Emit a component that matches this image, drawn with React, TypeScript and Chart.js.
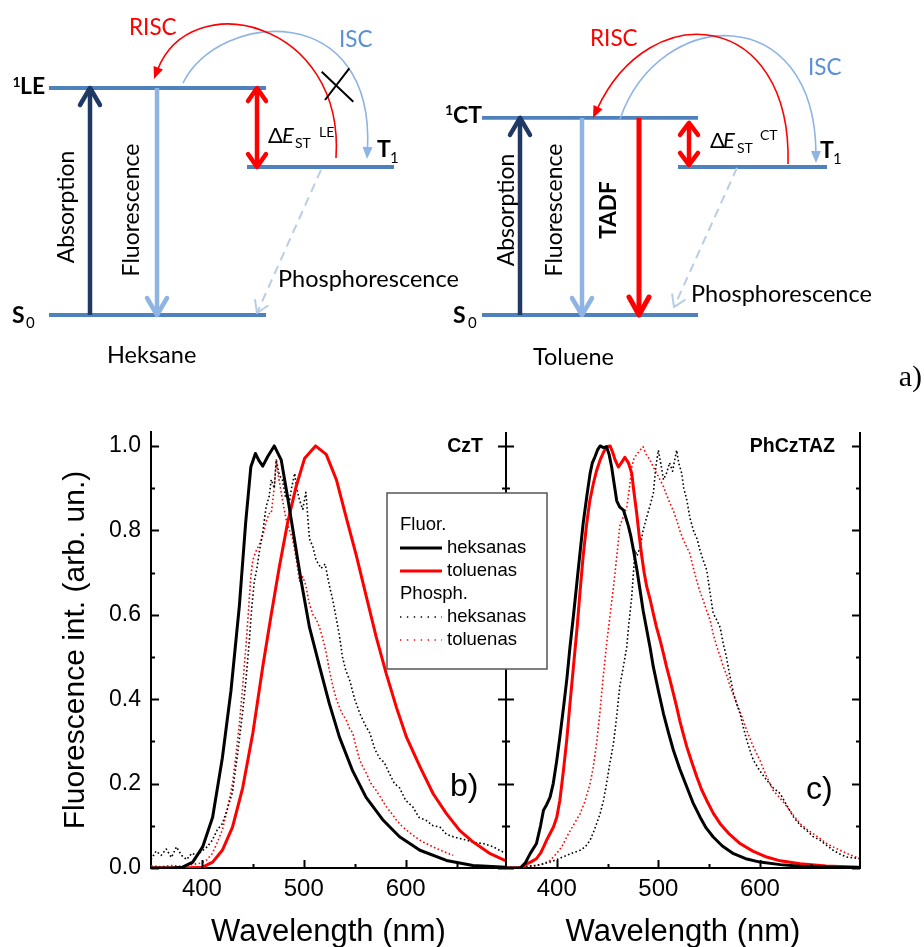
import React, { useEffect, useRef } from 'react';
import { Chart, registerables } from 'chart.js';

Chart.register(...registerables);

// ================= Spectra data (wavelength nm, normalised intensity) =================
// Panel b) CzT
const cztFluorHex: [number, number][] = [
  [350, 0], [370, 0], [381, 0.002], [391, 0.014], [400.7, 0.05], [410.5, 0.12], [420, 0.26], [428.5, 0.42],
  [436.7, 0.62], [443, 0.82], [448, 0.95], [452.5, 0.982], [456, 0.965], [459.7, 0.952], [464.6, 0.975],
  [471, 1.0], [477.8, 0.967], [484, 0.88], [490.9, 0.777], [497.4, 0.68], [505.6, 0.57], [515.5, 0.477],
  [525, 0.39], [535, 0.31], [548, 0.23], [561, 0.168], [578, 0.113], [594, 0.074], [614, 0.042],
  [640, 0.018], [666, 0.006], [698.5, 0.002],
];
const cztFluorTol: [number, number][] = [
  [350, 0], [381, 0], [400.7, 0.002], [410.5, 0.014], [420, 0.042], [430, 0.097], [440, 0.19], [450, 0.32],
  [459.7, 0.477], [468, 0.6], [476, 0.714], [484, 0.817], [492.5, 0.904], [500.7, 0.97], [511.5, 1.0],
  [522, 0.98], [532, 0.92], [541.7, 0.83], [551.6, 0.74], [561.4, 0.643], [571, 0.548], [581, 0.46],
  [591, 0.38], [600.8, 0.31], [614, 0.24], [627, 0.176], [640, 0.129], [653, 0.089], [666, 0.062],
  [683, 0.034], [698.5, 0.017],
];
const cztPhosHex: [number, number][] = [
  [350, 0.02], [355, 0.04], [360, 0.03], [365, 0.045], [370, 0.025], [375, 0.05], [380, 0.03], [385, 0.02],
  [390, 0.035], [395, 0.03], [400, 0.04], [405, 0.05], [410, 0.065], [415, 0.09], [420, 0.105], [425, 0.14],
  [430, 0.18], [435, 0.27], [440, 0.37], [443, 0.44], [446.6, 0.54], [449, 0.62], [451.5, 0.68], [454, 0.71],
  [456.4, 0.75], [460, 0.8], [463, 0.856], [466, 0.88], [468, 0.92], [471, 0.9], [473, 0.967], [476, 0.93],
  [479, 0.92], [482, 0.88], [486, 0.87], [488, 0.9], [491, 0.935], [493, 0.9], [496, 0.87], [499, 0.85],
  [502, 0.89], [505.6, 0.78], [509, 0.76], [512, 0.73], [517, 0.71], [521, 0.72], [525, 0.67], [528, 0.64],
  [532, 0.59], [535, 0.55], [538, 0.5], [541, 0.47], [545, 0.445], [550, 0.4], [555, 0.366], [560, 0.34],
  [564.7, 0.32], [570, 0.28], [574.5, 0.26], [579, 0.25], [584, 0.224], [589, 0.2], [594, 0.19], [600, 0.16],
  [607, 0.145], [613, 0.12], [620, 0.113], [627, 0.1], [633.6, 0.097], [640, 0.08], [646.7, 0.074],
  [653, 0.07], [660, 0.066], [668, 0.06], [676, 0.058], [686, 0.05], [698.5, 0.034],
];
const cztPhosTol: [number, number][] = [
  [350, 0.005], [360, 0.003], [370, 0.006], [380, 0.004], [390, 0.008], [400, 0.012], [405, 0.02], [410, 0.034],
  [415, 0.06], [420, 0.09], [425, 0.14], [430, 0.2], [433, 0.26], [436.7, 0.34], [440, 0.43], [443, 0.52],
  [446, 0.62], [448, 0.69], [450, 0.73], [453, 0.75], [455, 0.76], [458, 0.775], [460, 0.79], [463, 0.82],
  [466, 0.84], [468, 0.84], [471, 0.9], [473, 0.967], [475, 0.93], [477.8, 0.89], [480, 0.86], [482.7, 0.825],
  [486, 0.8], [489, 0.78], [492, 0.74], [495.8, 0.68], [499, 0.69], [502, 0.67], [505, 0.63], [509, 0.6],
  [512, 0.59], [515.5, 0.57], [519, 0.54], [522, 0.51], [525, 0.47], [528.6, 0.43], [532, 0.4], [535, 0.38],
  [538, 0.365], [541.7, 0.35], [545, 0.33], [548, 0.32], [551, 0.29], [555, 0.255], [558, 0.24], [561.4, 0.224],
  [566, 0.2], [571, 0.184], [576, 0.165], [581, 0.145], [586, 0.13], [591, 0.113], [596, 0.1], [600.8, 0.09],
  [607, 0.078], [614, 0.066], [620, 0.058], [627, 0.05], [636, 0.04], [646.7, 0.03],
];

// Panel c) PhCzTAZ
const phFluorHex: [number, number][] = [
  [350, 0], [364, 0], [369, 0.012], [373.8, 0.034], [380, 0.058], [384, 0.1], [386.9, 0.137], [390, 0.15],
  [393.4, 0.168], [396.5, 0.2], [400, 0.255], [403, 0.31], [406.6, 0.38], [410, 0.45], [413, 0.524],
  [416.5, 0.6], [419.7, 0.674], [423, 0.75], [426, 0.817], [429.5, 0.88], [432.8, 0.935], [435, 0.96],
  [437.7, 0.975], [440, 0.99], [442.7, 1.0], [446, 0.996], [449, 0.998], [451.5, 0.98], [454, 0.95],
  [456.5, 0.91], [459, 0.87], [462, 0.855], [465.6, 0.848], [468, 0.83], [470.5, 0.81], [473, 0.785],
  [475.5, 0.753], [479, 0.705], [482, 0.658], [485, 0.61], [488.6, 0.564], [492, 0.52], [495, 0.477],
  [500, 0.42], [505, 0.366], [510, 0.32], [514.8, 0.279], [521, 0.235], [528, 0.192], [534, 0.155],
  [541, 0.121], [547, 0.095], [554, 0.0735], [563, 0.052], [574, 0.034], [586, 0.022], [600, 0.014],
  [620, 0.008], [639.5, 0.004], [670, 0.002], [698.5, 0.001],
];
const phFluorTol: [number, number][] = [
  [350, 0], [365, 0], [370.5, 0.01], [375, 0.015], [380, 0.022], [384, 0.035], [387, 0.05], [390, 0.066],
  [393, 0.08], [396.7, 0.097], [400, 0.12], [403, 0.16], [406.5, 0.23], [409.8, 0.303], [413, 0.39],
  [416.4, 0.477], [420, 0.57], [423, 0.658], [426, 0.74], [429.5, 0.817], [432.5, 0.87], [436, 0.911],
  [439, 0.94], [442.7, 0.967], [446, 0.985], [449, 0.998], [452.5, 1.0], [455, 0.985], [457.4, 0.967],
  [460.7, 0.95], [463.5, 0.96], [467, 0.973], [470.5, 0.96], [473.8, 0.935], [476, 0.89], [478.7, 0.84],
  [481, 0.79], [483.7, 0.738], [486, 0.7], [488.6, 0.666], [492, 0.635], [495, 0.603], [498, 0.572],
  [501.7, 0.54], [505, 0.508], [508, 0.477], [511.5, 0.445], [514.8, 0.413], [518, 0.382], [521, 0.35],
  [524.5, 0.318], [528, 0.287], [533, 0.25], [537.8, 0.216], [542.5, 0.186], [547.6, 0.16], [554, 0.13],
  [560.8, 0.105], [570, 0.08], [580.4, 0.058], [593, 0.04], [606.7, 0.026], [620, 0.017], [639.5, 0.01],
  [665, 0.005], [698.5, 0.002],
];
const phPhosHex: [number, number][] = [
  [350, 0.002], [360, 0.0], [370, 0.004], [380, 0.006], [393.4, 0.014], [400, 0.02], [409.8, 0.03], [416, 0.036],
  [423, 0.042], [428, 0.05], [432.8, 0.066], [437, 0.09], [442.7, 0.129], [446, 0.16], [449, 0.2], [452, 0.245],
  [455.8, 0.295], [459, 0.36], [462, 0.43], [465, 0.47], [468.9, 0.524], [471, 0.58], [473.8, 0.643],
  [475.5, 0.7], [477, 0.753], [479, 0.74], [482, 0.76], [485, 0.8], [488.6, 0.832], [492, 0.86], [495, 0.888],
  [497.5, 0.95], [500, 0.99], [503, 0.95], [505, 0.92], [508, 0.935], [511, 0.96], [514, 0.94], [518, 0.99],
  [520, 0.96], [523, 0.935], [525, 0.9], [528, 0.872], [531, 0.83], [534.5, 0.8], [538, 0.78], [541, 0.753],
  [544, 0.73], [547.6, 0.706], [551, 0.65], [554, 0.603], [557, 0.59], [560.8, 0.57], [564, 0.53], [567, 0.5],
  [570, 0.46], [574, 0.413], [577, 0.39], [580.4, 0.366], [584, 0.33], [587, 0.303], [590, 0.28],
  [593.6, 0.255], [600, 0.23], [606.7, 0.208], [613, 0.19], [620, 0.176], [626, 0.15], [633, 0.121],
  [640, 0.1], [646, 0.089], [652, 0.075], [659, 0.066], [665, 0.055], [672, 0.042], [678, 0.034],
  [685, 0.026], [692, 0.024], [698.5, 0.022],
];
const phPhosTol: [number, number][] = [
  [350, 0.0], [370, 0.003], [380, 0.006], [387, 0.01], [393.4, 0.018], [400, 0.035], [405, 0.05], [409.8, 0.074],
  [416, 0.1], [423, 0.129], [428, 0.16], [432.8, 0.2], [436, 0.24], [439.4, 0.3], [442.5, 0.37], [446, 0.46],
  [449, 0.53], [452.5, 0.6], [455, 0.65], [457.4, 0.7], [460, 0.76], [462, 0.81], [465, 0.83], [468.9, 0.856],
  [471.5, 0.9], [473.8, 0.95], [476, 0.97], [478.7, 0.98], [482, 0.99], [485, 0.998], [488, 0.98],
  [491.7, 0.967], [495, 0.95], [498.4, 0.935], [501.5, 0.92], [505, 0.904], [508, 0.885], [511.5, 0.864],
  [515, 0.845], [518, 0.825], [521, 0.8], [524.7, 0.777], [528, 0.76], [531, 0.745], [534.5, 0.71],
  [537.8, 0.68], [541, 0.655], [544, 0.635], [547.5, 0.61], [551, 0.587], [554, 0.555], [557.5, 0.524],
  [561, 0.5], [564, 0.477], [567.5, 0.455], [570.6, 0.43], [574, 0.41], [577, 0.39], [582, 0.36], [587, 0.326],
  [593, 0.29], [600, 0.255], [606, 0.22], [613, 0.184], [620, 0.165], [626.6, 0.145], [633, 0.125],
  [639.5, 0.105], [646, 0.092], [652.6, 0.081], [659, 0.07], [665.7, 0.058], [672, 0.05], [678.8, 0.042],
  [688, 0.032], [698.5, 0.022],
];

const SOLVENTS = ['heksanas', 'toluenas'];
const GROUPS = ['Fluor.', 'Phosph.'];
const X_TICKS = [400, 450, 500, 550, 600, 650];
const X_LABELS = [400, 500, 600];
const Y_TICKS = [0, 0.1, 0.2, 0.3, 0.4, 0.5, 0.6, 0.7, 0.8, 0.9, 1.0];
const Y_LABELS = [0, 0.2, 0.4, 0.6, 0.8, 1.0];
const WL_MIN = 350;
const WL_MAX = 698.5;
const INT_MAX = 1.033;

// ================= Energy scheme (arb. units, S0 = 0) =================
const HEX_LEVELS = { S0: 0, S1: 1.0, T1: 0.652 }; // S0, 1LE, T1 in hexane
const TOL_LEVELS = { S0: 0, S1: 0.868, T1: 0.652 }; // S0, 1CT, T1 in toluene
const E_MIN = -0.3744;
const E_MAX = 1.3877;

const SANS = '"Liberation Sans", Arial, Helvetica, sans-serif';
const SCHEME_FONT = 'Lato, "Open Sans", "Noto Sans", sans-serif';
const NAVY = '#1F3864';
const LIGHT = '#8EB4E3';
const LEVEL = '#4F81BD';
const PALE = '#B9CDE5';
const RED = '#FF0000';
const ISC_TEXT = '#5B8FD6';

function isMajor(v: number, step: number) {
  return Math.abs(v / step - Math.round(v / step)) < 1e-6;
}

function chevron(ctx: CanvasRenderingContext2D, tx: number, ty: number, dx: number, dy: number, len: number, half: number) {
  const n = Math.hypot(dx, dy) || 1;
  const ux = dx / n, uy = dy / n;
  const bx = tx - ux * len, by = ty - uy * len;
  const nx = -uy, ny = ux;
  ctx.beginPath();
  ctx.moveTo(bx + nx * half, by + ny * half);
  ctx.lineTo(tx, ty);
  ctx.lineTo(bx - nx * half, by - ny * half);
  ctx.stroke();
}

function makePanel(canvas: HTMLCanvasElement, side: 'left' | 'right') {
  const series = side === 'left'
    ? { fh: cztFluorHex, ft: cztFluorTol, ph: cztPhosHex, pt: cztPhosTol, name: 'CzT', letter: 'b)' }
    : { fh: phFluorHex, ft: phFluorTol, ph: phPhosHex, pt: phPhosTol, name: 'PhCzTAZ', letter: 'c)' };

  const mk = (data: [number, number][], color: string, dotted: boolean, label: string) => ({
    label,
    data: data.map(([x, y]) => ({ x, y })),
    showLine: true,
    borderColor: color,
    backgroundColor: color,
    borderWidth: dotted ? 1.6 : 3,
    borderDash: dotted ? [1.6, 2.4] : [],
    borderCapStyle: 'butt',
    borderJoinStyle: 'round',
    pointRadius: 0,
    tension: 0,
    dotted,
  });

  const datasets = [
    mk(series.fh, '#000000', false, SOLVENTS[0]),
    mk(series.ft, RED, false, SOLVENTS[1]),
    mk(series.ph, '#000000', true, SOLVENTS[0]),
    mk(series.pt, RED, true, SOLVENTS[1]),
  ];

  const framePlugin = {
    id: 'frame' + side,
    afterDraw(chart: any) {
      const { ctx, chartArea: a, scales } = chart;
      const xs = scales.x, ys = scales.y;
      ctx.save();
      ctx.strokeStyle = '#000';
      ctx.lineWidth = 2;
      // bottom inward ticks
      for (const t of X_TICKS) {
        const px = Math.round(xs.getPixelForValue(t)) + 0.5;
        const len = isMajor(t, 100) ? 8 : 4;
        ctx.beginPath();
        ctx.moveTo(px, a.bottom);
        ctx.lineTo(px, a.bottom - len);
        ctx.stroke();
      }
      const vline = (x: number) => {
        ctx.beginPath();
        ctx.moveTo(x, a.top);
        ctx.lineTo(x, a.bottom);
        ctx.stroke();
      };
      const yTicks = (x: number, dir: number) => {
        for (const t of Y_TICKS) {
          const py = Math.round(ys.getPixelForValue(t)) + 0.5;
          const len = isMajor(t, 0.2) ? 8 : 4;
          ctx.beginPath();
          ctx.moveTo(x, py);
          ctx.lineTo(x + dir * len, py);
          ctx.stroke();
        }
      };
      if (side === 'left') {
        yTicks(a.left, 1);
        vline(a.right);
        yTicks(a.right, -1);
      } else {
        vline(a.left);
        yTicks(a.left, 1);
        vline(a.right);
        yTicks(a.right, -1);
      }
      // panel names
      ctx.fillStyle = '#000';
      ctx.font = `bold 19.5px ${SANS}`;
      ctx.textAlign = 'right';
      ctx.textBaseline = 'middle';
      ctx.fillText(series.name, a.right - (side === 'left' ? 23 : 25), a.top + 15);
      ctx.font = `32px ${SANS}`;
      ctx.textAlign = 'left';
      ctx.textBaseline = 'alphabetic';
      if (side === 'left') ctx.fillText(series.letter, a.right - 56, a.top + 364);
      else ctx.fillText(series.letter, a.right - 54, a.top + 367);

      // grouped legend (left panel only)
      if (side === 'left') {
        const bx = a.right - 119, by = a.top + 61, bw = 160, bh = 176;
        ctx.fillStyle = '#fff';
        ctx.fillRect(bx, by, bw, bh);
        ctx.strokeStyle = '#555';
        ctx.lineWidth = 1.5;
        ctx.strokeRect(bx, by, bw, bh);
        ctx.font = `18.5px ${SANS}`;
        ctx.textBaseline = 'middle';
        ctx.textAlign = 'left';
        let yy = by + 32;
        const ds = chart.data.datasets;
        const groups = [
          { title: GROUPS[0], items: ds.filter((d: any) => !d.dotted) },
          { title: GROUPS[1], items: ds.filter((d: any) => d.dotted) },
        ];
        for (const g of groups) {
          ctx.fillStyle = '#000';
          ctx.fillText(g.title, bx + 13, yy);
          yy += 23;
          for (const d of g.items) {
            ctx.beginPath();
            ctx.setLineDash(d.dotted ? [1.4, 5.5] : []);
            ctx.lineWidth = d.dotted ? 1.4 : 3;
            ctx.strokeStyle = d.borderColor;
            ctx.moveTo(bx + 13, yy);
            ctx.lineTo(bx + 55, yy);
            ctx.stroke();
            ctx.setLineDash([]);
            ctx.fillStyle = '#000';
            ctx.fillText(d.label, bx + 60, yy);
            yy += 23;
          }
        }
      }
      ctx.restore();
    },
  };

  const yAxis: any = {
    type: 'linear',
    display: side === 'left',
    min: 0,
    max: INT_MAX,
    afterBuildTicks: (s: any) => { s.ticks = Y_TICKS.map((v) => ({ value: v })); },
    ticks: {
      autoSkip: false,
      padding: 10,
      color: '#000',
      font: { family: SANS, size: 23 },
      callback: (v: any) => (Y_LABELS.some((l) => Math.abs(l - Number(v)) < 1e-6) ? Number(v).toFixed(1) : ''),
    },
    grid: { display: false, drawTicks: false },
    border: { display: true, color: '#000', width: 2 },
    title: { display: true, text: 'Fluorescence int. (arb. un.)', color: '#000', font: { family: SANS, size: 30 }, padding: { top: 58, bottom: 0 } },
  };
  if (side === 'left') yAxis.afterFit = (s: any) => { s.width = 151; };

  return new Chart(canvas, {
    type: 'scatter',
    data: { datasets: datasets as any },
    options: {
      animation: false,
      responsive: false,
      devicePixelRatio: 1,
      events: [],
      layout: { padding: side === 'left' ? { left: 0, right: 54, top: 32, bottom: 0 } : { left: 6, right: 64, top: 32, bottom: 0 } },
      plugins: { legend: { display: false }, tooltip: { enabled: false } },
      scales: {
        x: {
          type: 'linear',
          min: WL_MIN,
          max: WL_MAX,
          afterBuildTicks: (s: any) => { s.ticks = X_TICKS.map((v) => ({ value: v })); },
          afterFit: (s: any) => { s.height = 92; },
          ticks: {
            autoSkip: false,
            maxRotation: 0,
            padding: 7,
            color: '#000',
            font: { family: SANS, size: 24 },
            callback: (v: any) => (X_LABELS.includes(Number(v)) ? String(v) : ''),
          },
          grid: { display: false, drawTicks: false },
          border: { display: true, color: '#000', width: 2 },
          title: { display: true, text: 'Wavelength (nm)', color: '#000', font: { family: SANS, size: 31 }, padding: { top: 0, bottom: 9 } },
        },
        y: yAxis,
      },
    } as any,
    plugins: [framePlugin],
  });
}

function makeScheme(canvas: HTMLCanvasElement) {
  const H = HEX_LEVELS, T = TOL_LEVELS;
  type Seg = { pts: [number, number][]; color: string; width: number; dash?: number[]; heads?: string[]; hl?: number; hw?: number };
  const segs: Seg[] = [
    // hexane: transitions
    { pts: [[90, H.S0], [90, H.S1]], color: NAVY, width: 4.5, heads: ['end'], hl: 17, hw: 10 },
    { pts: [[157, H.S1], [157, H.S0]], color: LIGHT, width: 4.5, heads: ['end'], hl: 17, hw: 10 },
    { pts: [[257, H.S1], [257, H.T1]], color: RED, width: 4.5, heads: ['start', 'end'], hl: 13, hw: 9 },
    { pts: [[321, H.T1 - 0.013], [257, H.S0 + 0.009]], color: PALE, width: 2, dash: [9, 6], heads: ['end'], hl: 11, hw: 7 },
    // toluene: transitions
    { pts: [[520, T.S0], [520, T.S1]], color: NAVY, width: 4.5, heads: ['end'], hl: 17, hw: 10 },
    { pts: [[582, T.S1], [582, T.S0]], color: LIGHT, width: 4.5, heads: ['end'], hl: 17, hw: 10 },
    { pts: [[639, T.S1], [639, T.S0]], color: RED, width: 5, heads: ['end'], hl: 18, hw: 10 },
    { pts: [[689, T.S1 - 0.022], [689, T.T1 + 0.009]], color: RED, width: 4.5, heads: ['start', 'end'], hl: 12, hw: 9 },
    { pts: [[737, T.T1 - 0.004], [674, T.S0 + 0.035]], color: PALE, width: 2, dash: [9, 6], heads: ['end'], hl: 11, hw: 7 },
    // levels
    { pts: [[49, H.S0], [266, H.S0]], color: LEVEL, width: 3.8 },
    { pts: [[49, H.S1], [266, H.S1]], color: LEVEL, width: 3.8 },
    { pts: [[247, H.T1], [394, H.T1]], color: LEVEL, width: 3.8 },
    { pts: [[482, T.S0], [698, T.S0]], color: LEVEL, width: 3.8 },
    { pts: [[482, T.S1], [698, T.S1]], color: LEVEL, width: 3.8 },
    { pts: [[678, T.T1], [827, T.T1]], color: LEVEL, width: 3.8 },
  ];

  const schemePlugin = {
    id: 'scheme',
    afterDatasetsDraw(chart: any) {
      const { ctx } = chart;
      ctx.save();
      ctx.lineCap = 'round';
      ctx.lineJoin = 'round';
      chart.data.datasets.forEach((d: any, i: number) => {
        if (!d.heads) return;
        const pts = chart.getDatasetMeta(i).data;
        const p0 = pts[0], p1 = pts[1];
        ctx.strokeStyle = d.borderColor;
        ctx.lineWidth = d.borderWidth;
        ctx.setLineDash([]);
        if (d.heads.includes('end')) chevron(ctx, p1.x, p1.y, p1.x - p0.x, p1.y - p0.y, d.hl, d.hw);
        if (d.heads.includes('start')) chevron(ctx, p0.x, p0.y, p0.x - p1.x, p0.y - p1.y, d.hl, d.hw);
      });
      ctx.restore();
    },
    afterDraw(chart: any) {
      const { ctx } = chart;
      ctx.save();
      // curved RISC / ISC arrows
      const curve = (p: number[][], color: string) => {
        const [a, b, c, d] = p;
        const dx = d[0] - c[0], dy = d[1] - c[1];
        const n = Math.hypot(dx, dy);
        const ux = dx / n, uy = dy / n;
        const L = 12, W = 5;
        const ex = d[0] - ux * L * 0.8, ey = d[1] - uy * L * 0.8;
        ctx.strokeStyle = color;
        ctx.lineWidth = 1.6;
        ctx.beginPath();
        ctx.moveTo(a[0], a[1]);
        ctx.bezierCurveTo(b[0], b[1], c[0], c[1], ex, ey);
        ctx.stroke();
        ctx.fillStyle = color;
        ctx.beginPath();
        ctx.moveTo(d[0], d[1]);
        ctx.lineTo(d[0] - ux * L - uy * W, d[1] - uy * L + ux * W);
        ctx.lineTo(d[0] - ux * L + uy * W, d[1] - uy * L - ux * W);
        ctx.closePath();
        ctx.fill();
      };
      curve([[183, 83], [220, 10], [375, 0], [367, 159]], LIGHT);
      curve([[336, 158], [345, 20], [190, -15], [154, 79]], RED);
      curve([[620, 119], [660, 5], [815, 0], [816, 163]], LIGHT);
      curve([[788, 164], [792, 10], [650, -5], [593, 118]], RED);
      // blocked ISC cross
      ctx.strokeStyle = '#000';
      ctx.lineWidth = 2;
      ctx.beginPath();
      ctx.moveTo(321.7, 71.7); ctx.lineTo(353.3, 101.7);
      ctx.moveTo(349.3, 68.3); ctx.lineTo(325, 100);
      ctx.stroke();

      const F = (w: string, s: number, it = false) => `${it ? 'italic ' : ''}${w} ${s}px ${SCHEME_FONT}`;
      const put = (t: string, x: number, y: number, font: string, color = '#000', align: CanvasTextAlign = 'left') => {
        ctx.font = font;
        ctx.fillStyle = color;
        ctx.textAlign = align;
        ctx.textBaseline = 'alphabetic';
        ctx.fillText(t, x, y);
      };
      const rot = (t: string, x: number, y: number, font: string) => {
        ctx.save();
        ctx.translate(x, y);
        ctx.rotate(-Math.PI / 2);
        ctx.font = font;
        ctx.fillStyle = '#000';
        ctx.textAlign = 'center';
        ctx.textBaseline = 'middle';
        ctx.fillText(t, 0, 0);
        ctx.restore();
      };
      const R = 23.5;
      // hexane labels
      put('1', 12.5, 87, F('bold', 14));
      put('LE', 20, 94, F('bold', 23));
      put('S', 12, 323, F('bold', 23));
      put('0', 26, 328, F('normal', 15));
      put('T', 377, 157, F('bold', 23));
      put('1', 390, 163, F('normal', 15));
      put('\u0394', 268, 143, F('normal', 22));
      put('E', 282, 143, F('normal', 22, true));
      put('ST', 295, 148, F('normal', 14));
      put('LE', 319, 137, F('normal', 14));
      put('RISC', 129, 35, F('normal', 22.5), RED);
      put('ISC', 339, 47, F('normal', 22.5), ISC_TEXT);
      put('Phosphorescence', 278, 287, F('normal', R));
      put('Heksane', 107, 363, F('normal', R));
      rot('Absorption', 67, 207, F('normal', 23));
      rot('Fluorescence', 132, 210, F('normal', 23));
      // toluene labels
      put('1', 445, 115, F('bold', 14));
      put('CT', 453, 123, F('bold', 23));
      put('S', 453, 323, F('bold', 23));
      put('0', 468, 328, F('normal', 15));
      put('T', 820, 158, F('bold', 23));
      put('1', 833, 164, F('normal', 15));
      put('\u0394', 710, 148, F('normal', 22));
      put('E', 723, 148, F('normal', 22, true));
      put('ST', 737, 153, F('normal', 14));
      put('CT', 760, 140, F('normal', 14));
      put('RISC', 590, 46, F('normal', 22.5), RED);
      put('ISC', 808, 75, F('normal', 22.5), ISC_TEXT);
      put('Phosphorescence', 691, 302, F('normal', R));
      put('Toluene', 533, 365, F('normal', R));
      rot('Absorption', 507, 210, F('normal', 23));
      rot('Fluorescence', 555, 210, F('normal', 23));
      rot('TADF', 609, 210, F('bold', 22.5));
      put('a)', 922, 386, `30px "Liberation Serif", "Times New Roman", serif`, '#000', 'right');
      ctx.restore();
    },
  };

  return new Chart(canvas, {
    type: 'scatter',
    data: {
      datasets: segs.map((s) => ({
        data: s.pts.map(([x, y]) => ({ x, y })),
        showLine: true,
        borderColor: s.color,
        borderWidth: s.width,
        borderDash: s.dash || [],
        borderCapStyle: 'butt',
        pointRadius: 0,
        heads: s.heads,
        hl: s.hl,
        hw: s.hw,
      })) as any,
    },
    options: {
      animation: false,
      responsive: false,
      devicePixelRatio: 1,
      events: [],
      layout: { padding: 0 },
      plugins: { legend: { display: false }, tooltip: { enabled: false } },
      scales: {
        x: { type: 'linear', min: 0, max: 924, display: false },
        y: { type: 'linear', min: E_MIN, max: E_MAX, display: false },
      },
    } as any,
    plugins: [schemePlugin],
  });
}

export default function App() {
  const schemeRef = useRef<HTMLCanvasElement>(null);
  const leftRef = useRef<HTMLCanvasElement>(null);
  const rightRef = useRef<HTMLCanvasElement>(null);

  useEffect(() => {
    const charts = [
      makeScheme(schemeRef.current!),
      makePanel(rightRef.current!, 'right'),
      makePanel(leftRef.current!, 'left'),
    ];
    return () => charts.forEach((c) => c.destroy());
  }, []);

  return (
    <div style={{ position: 'fixed', left: 0, top: 0, width: 924, height: 947, overflow: 'hidden', background: '#fff' }}>
      <div style={{ position: 'absolute', left: 0, top: 0, width: 924, height: 400 }}>
        <canvas ref={schemeRef} width={924} height={400} style={{ display: 'block' }} />
      </div>
      <div style={{ position: 'absolute', left: 500, top: 400, width: 424, height: 560, zIndex: 1 }}>
        <canvas ref={rightRef} width={424} height={560} style={{ display: 'block' }} />
      </div>
      <div style={{ position: 'absolute', left: 0, top: 400, width: 560, height: 560, zIndex: 2 }}>
        <canvas ref={leftRef} width={560} height={560} style={{ display: 'block' }} />
      </div>
    </div>
  );
}
